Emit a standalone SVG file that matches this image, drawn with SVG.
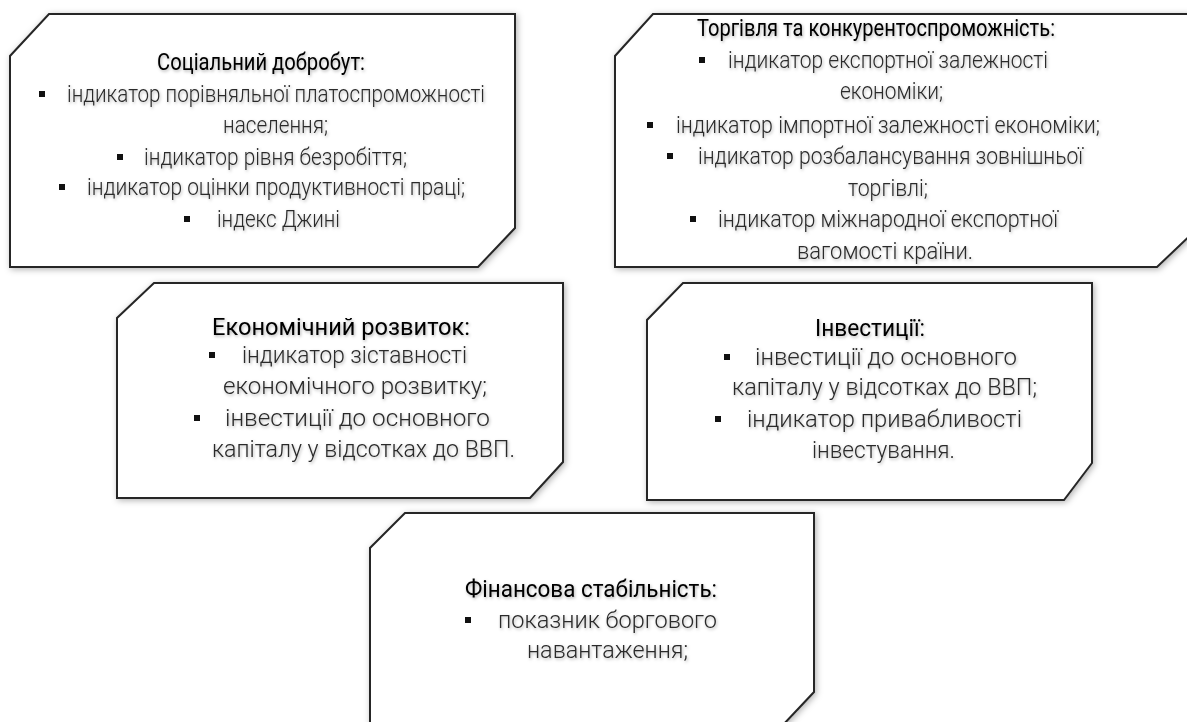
<svg xmlns="http://www.w3.org/2000/svg" width="1187" height="722" viewBox="0 0 1187 722">
<defs>
<filter id="boxShadow" x="-10%" y="-10%" width="120%" height="120%">
<feDropShadow dx="1.5" dy="1.5" stdDeviation="3" flood-color="#000" flood-opacity="0.3"/>
</filter>
<filter id="txtShadow" x="-5%" y="-30%" width="110%" height="160%">
<feDropShadow dx="1" dy="1.5" stdDeviation="1.8" flood-color="#000" flood-opacity="0.3"/>
</filter>
</defs>
<style>
.box{fill:#fff;stroke:#262626;stroke-width:2;filter:url(#boxShadow)}
text{font-family:Roboto,"Open Sans","Liberation Sans",sans-serif;font-size:23px;fill:#2a2a2a;font-weight:300;filter:url(#txtShadow)}
.h{fill:#000;font-weight:400}
.b{fill:#111}
</style>
<rect width="1187" height="722" fill="#fff"/>
<g id="connectors"></g>

<g id="node-social">
<polygon class="box" points="49,14 515,14 515,228 478,267 10,267 10,56"/>
<text class="h" x="157" y="70" textLength="208" lengthAdjust="spacingAndGlyphs">Соціальний добробут:</text>
<rect class="b" x="39" y="91" width="6" height="6"/>
<text x="67" y="102" textLength="418" lengthAdjust="spacingAndGlyphs">індикатор порівняльної платоспроможності</text>
<text x="223" y="133" textLength="105" lengthAdjust="spacingAndGlyphs">населення;</text>
<rect class="b" x="117" y="154" width="6" height="6"/>
<text x="144" y="165" textLength="263" lengthAdjust="spacingAndGlyphs">індикатор рівня безробіття;</text>
<rect class="b" x="59" y="184" width="6" height="6"/>
<text x="87" y="195" textLength="378" lengthAdjust="spacingAndGlyphs">індикатор оцінки продуктивності праці;</text>
<rect class="b" x="184" y="216" width="6" height="6"/>
<text x="217" y="227" textLength="123" lengthAdjust="spacingAndGlyphs">індекс Джині</text>
</g>

<g id="node-trade">
<polygon class="box" points="653,14 1199,14 1199,227 1157,267 615,267 615,56"/>
<text class="h" x="697" y="36" textLength="358" lengthAdjust="spacingAndGlyphs">Торгівля та конкурентоспроможність:</text>
<rect class="b" x="699" y="57" width="6" height="6"/>
<text x="728" y="68" textLength="320" lengthAdjust="spacingAndGlyphs">індикатор експортної залежності</text>
<text x="840" y="99" textLength="103" lengthAdjust="spacingAndGlyphs">економіки;</text>
<rect class="b" x="647" y="122" width="6" height="6"/>
<text x="676" y="133" textLength="424" lengthAdjust="spacingAndGlyphs">індикатор імпортної залежності економіки;</text>
<rect class="b" x="667" y="153" width="6" height="6"/>
<text x="698" y="164" textLength="385" lengthAdjust="spacingAndGlyphs">індикатор розбалансування зовнішньої</text>
<text x="848" y="196" textLength="80" lengthAdjust="spacingAndGlyphs">торгівлі;</text>
<rect class="b" x="690" y="216" width="6" height="6"/>
<text x="718" y="227" textLength="340" lengthAdjust="spacingAndGlyphs">індикатор міжнародної експортної</text>
<text x="797" y="259" textLength="176" lengthAdjust="spacingAndGlyphs">вагомості країни.</text>
</g>

<g id="node-economic">
<polygon class="box" points="154,283 563,283 563,462 530,498 117,498 117,318"/>
<text class="h" x="212" y="335" textLength="258" lengthAdjust="spacingAndGlyphs">Економічний розвиток:</text>
<rect class="b" x="209" y="352" width="6" height="6"/>
<text x="242" y="363" textLength="225" lengthAdjust="spacingAndGlyphs">індикатор зіставності</text>
<text x="223" y="394" textLength="264" lengthAdjust="spacingAndGlyphs">економічного розвитку;</text>
<rect class="b" x="194" y="415" width="6" height="6"/>
<text x="225" y="426" textLength="265" lengthAdjust="spacingAndGlyphs">інвестиції до основного</text>
<text x="212" y="457" textLength="303" lengthAdjust="spacingAndGlyphs">капіталу у відсотках до ВВП.</text>
</g>

<g id="node-investments">
<polygon class="box" points="683,283 1092,283 1092,463 1064,500 647,500 647,320"/>
<text class="h" x="815" y="336" textLength="110" lengthAdjust="spacingAndGlyphs">Інвестиції:</text>
<rect class="b" x="724" y="354" width="6" height="6"/>
<text x="755" y="365" textLength="262" lengthAdjust="spacingAndGlyphs">інвестиції до основного</text>
<text x="732" y="395" textLength="305" lengthAdjust="spacingAndGlyphs">капіталу у відсотках до ВВП;</text>
<rect class="b" x="715" y="416" width="6" height="6"/>
<text x="747" y="427" textLength="275" lengthAdjust="spacingAndGlyphs">індикатор привабливості</text>
<text x="812" y="458" textLength="143" lengthAdjust="spacingAndGlyphs">інвестування.</text>
</g>

<g id="node-financial">
<polygon class="box" points="405,513 814,513 814,692 782,726 370,726 370,548"/>
<text class="h" x="465" y="597" textLength="252" lengthAdjust="spacingAndGlyphs">Фінансова стабільність:</text>
<rect class="b" x="465" y="617" width="6" height="6"/>
<text x="498" y="628" textLength="219" lengthAdjust="spacingAndGlyphs">показник боргового</text>
<text x="527" y="658" textLength="161" lengthAdjust="spacingAndGlyphs">навантаження;</text>
</g>
</svg>
